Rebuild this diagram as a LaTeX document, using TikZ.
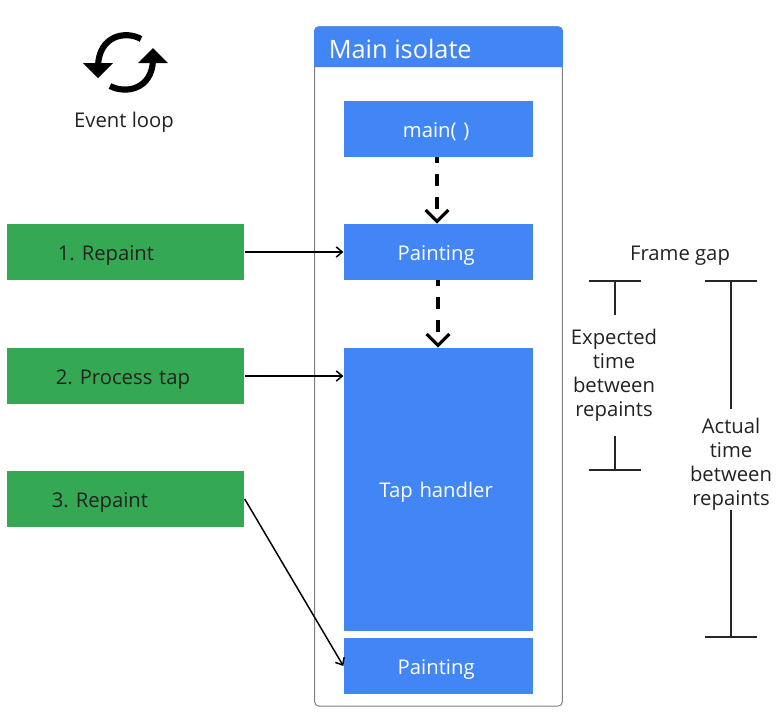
\documentclass[tikz,border=0pt]{standalone}
\usepackage{fontspec}
\setmainfont{Open Sans}
\usepackage{xcolor}
\usetikzlibrary{arrows.meta, positioning, calc}
\definecolor{isoblue}{RGB}{66,133,244}
\definecolor{loopgreen}{RGB}{52,168,83}
\definecolor{inktext}{RGB}{34,34,34}

\begin{document}
\begin{tikzpicture}[
        x=0.75pt, y=-0.75pt,
        font=\fontsize{15.2pt}{18pt}\selectfont,
        every node/.style={align=center, text=inktext},
        frame/.style={rectangle, rounded corners=3.5pt, draw=black!50, line width=0.75pt,
                      minimum width=6.535cm, minimum height=17.91cm, inner sep=0pt},
        block/.style={rectangle, fill=isoblue, text=white, text width=5cm,
                      minimum height=1.482cm, inner sep=0pt, text height=14pt, text depth=2pt,
                      execute at begin node=\hspace*{-3.5pt}},
        eventbox/.style={rectangle, fill=loopgreen, minimum height=1.482cm,
                         text width=6.27cm, inner sep=0pt, align=left,
                         text height=14pt, text depth=2pt},
        arrow/.style={-{Straight Barb[length=1.6mm, width=2.7mm]}, line width=1.1pt, black},
        dasharrow/.style={-{Straight Barb[length=3mm, width=6mm, line width=2.4pt]},
                          line width=2.4pt, black, dash pattern=on 9pt off 8.25pt, dash phase=5pt},
        gapbar/.style={{Bar[width=39pt, line width=1.3pt]}-, line width=1.3pt, black!85},
        looparc/.style={line width=4.6pt, black},
        lbl/.style={inner sep=0pt}
    ]
        \useasboundingbox (0,0) rectangle (784,719);

        % Event loop icon
        \draw[looparc] (141,39) .. controls (125,30) and (99,36) .. (98,66);
        \fill[black] (83,63) -- (113,63) -- (98,78) -- cycle;
        \draw[looparc] (110,86) .. controls (125,94) and (152,90) .. (153,60);
        \fill[black] (138,63) -- (168,63) -- (153,48) -- cycle;
        \node[lbl] (loop_lbl) at (124,122) {Event loop};

        % Main isolate frame and its header
        \node[frame] (isolate) at (438.5,366.5) {};
        \coordinate (hdr_base) at (0,67);
        \fill[isoblue, rounded corners=3.5pt] (isolate.west |- hdr_base) -- (isolate.north west)
            -- (isolate.north east) -- (isolate.east |- hdr_base);
        \node[lbl, text=white, anchor=west, font=\fontsize{19pt}{22pt}\selectfont] (header) at (328.5,49) {Main isolate};

        % Isolate blocks
        \node[block] (main_fn) at (438.5,129) {main( )};
        \node[block] (paint_a) at (438.5,252) {Painting};
        \node[block, minimum height=7.47cm] (tap) at (438.5,489.5) {Tap handler};
        \node[block] (paint_b) at (438.5,666) {Painting};

        % Event queue
        \node[eventbox] (ev_one) at (125.5,252) {\hspace*{38.5pt}1.\hspace{0.34em}Repaint};
        \node[eventbox] (ev_two) at (125.5,376) {\hspace*{37pt}2.\hspace{0.34em}Process tap};
        \node[eventbox] (ev_three) at (125.5,499) {\hspace*{34pt}3.\hspace{0.34em}Repaint};

        % --- Arrows ---
        \draw[dasharrow] ($(main_fn.south)+(-1.5,0)$) -- ($(paint_a.north)+(-1.5,0)$);
        \draw[dasharrow] ($(paint_a.south)+(-0.5,0)$) -- ($(tap.north)+(-0.5,0)$);
        \draw[arrow] (ev_one.east) -- (paint_a.west);
        \draw[arrow] (ev_two.east) -- (tap.west |- ev_two.east);
        \draw[arrow] (ev_three.east) -- (paint_b.west);

        % Frame gap
        \node[lbl] (gap_lbl) at (680,256) {Frame gap};

        \node[lbl] (exp_lbl) at (614,375.5) {Expected\\time\\between\\repaints};
        \coordinate (exp_top) at (615,280);
        \coordinate (exp_bot) at (615,471);
        \draw[gapbar] (exp_top) -- ++(0,35);
        \draw[gapbar] (exp_bot) -- ++(0,-35);

        \node[lbl] (act_lbl) at (731,464) {Actual\\time\\between\\repaints};
        \coordinate (act_top) at (731,280);
        \coordinate (act_bot) at (731,638);
        \draw[gapbar] (act_top) -- ++(0,129);
        \draw[gapbar] (act_bot) -- ++(0,-128);
    \end{tikzpicture}
\end{document}
